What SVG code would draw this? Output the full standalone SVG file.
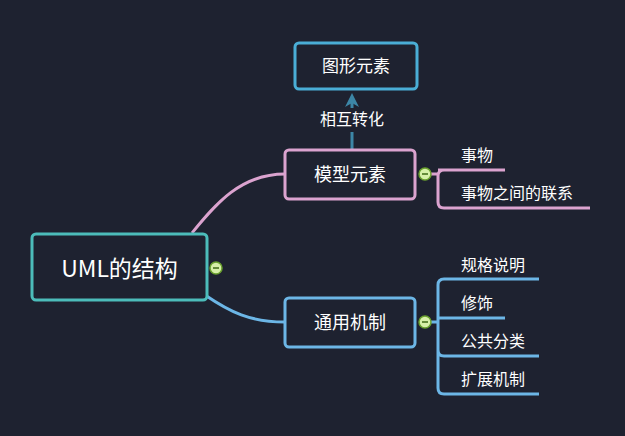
<svg xmlns="http://www.w3.org/2000/svg" width="625" height="436" viewBox="0 0 625 436">
<style>
text{font-family:"Noto Sans CJK SC","Noto Sans",sans-serif;fill:#ffffff}
.box{fill:#1e2230;stroke-width:3}
.t{font-size:16px}
.ln{fill:none;stroke-width:3}
.pk{stroke:#dba3cf}
.bl{stroke:#6cb6e6}
</style>
<defs>
<marker id="ah" markerWidth="14" markerHeight="14" refX="7" refY="7" orient="auto" markerUnits="userSpaceOnUse" viewBox="0 0 14 14"><path d="M0,0 L14,7 L0,14 L4,7 z" fill="#3c86a6"/></marker>
<g id="col"><circle r="6" fill="#d7f0a8" stroke="#6aa12e" stroke-width="1.5"/><line x1="-3" y1="0" x2="3" y2="0" stroke="#3f6b16" stroke-width="1.5"/></g>
</defs>
<rect width="625" height="436" fill="#1e2230"/>
<g id="connectors">
<path class="ln pk" d="M192,233 C215,205 240,174 285,174"/>
<path class="ln bl" d="M205,295 C230,312 250,322 285,322"/>
<path class="ln" stroke="#3c86a6" d="M352,149 L352,100" marker-end="url(#ah)"/>
<path class="ln pk" d="M431,174 L438,174 M438,170 Q438,170 505,170 M444,170 Q438,170 438,176 L438,202 Q438,208 444,208 L590,208"/>
<path class="ln bl" d="M431,322 L438,322 M444,279 L539,279 M438,318 L505,318 M444,279 Q438,279 438,285 L438,388 Q438,394 444,394 L539,394 M438,350 Q438,356 444,356 L539,356"/>
</g>
<g id="root"><rect class="box" x="32" y="234" width="175" height="66" rx="4" stroke="#4cbcba"/><text x="119.5" y="277" font-size="23" text-anchor="middle">UML的结构</text></g>
<use href="#col" x="216" y="268"/>
<g id="n1"><rect class="box" x="285" y="150" width="130" height="49" rx="4" stroke="#dba3cf"/><text x="350" y="181" font-size="18" text-anchor="middle">模型元素</text></g>
<use href="#col" x="425" y="174"/>
<g id="n2"><rect class="box" x="285" y="298" width="130" height="49" rx="4" stroke="#6cb6e6"/><text x="350" y="329" font-size="18" text-anchor="middle">通用机制</text></g>
<use href="#col" x="425" y="322"/>
<g id="n3"><rect class="box" x="295" y="43" width="122" height="46" rx="4" stroke="#4aaed6"/><text x="356" y="72" font-size="17" text-anchor="middle">图形元素</text></g>
<g id="lbl"><rect x="312" y="108" width="80" height="24" fill="#1e2230"/><text x="352" y="125" class="t" text-anchor="middle">相互转化</text></g>
<g id="l1"><text x="461" y="161" class="t">事物</text></g>
<g id="l2"><text x="461" y="199" class="t">事物之间的联系</text></g>
<g id="l3"><text x="461" y="271" class="t">规格说明</text></g>
<g id="l4"><text x="461" y="309" class="t">修饰</text></g>
<g id="l5"><text x="461" y="347" class="t">公共分类</text></g>
<g id="l6"><text x="461" y="385" class="t">扩展机制</text></g>
</svg>
